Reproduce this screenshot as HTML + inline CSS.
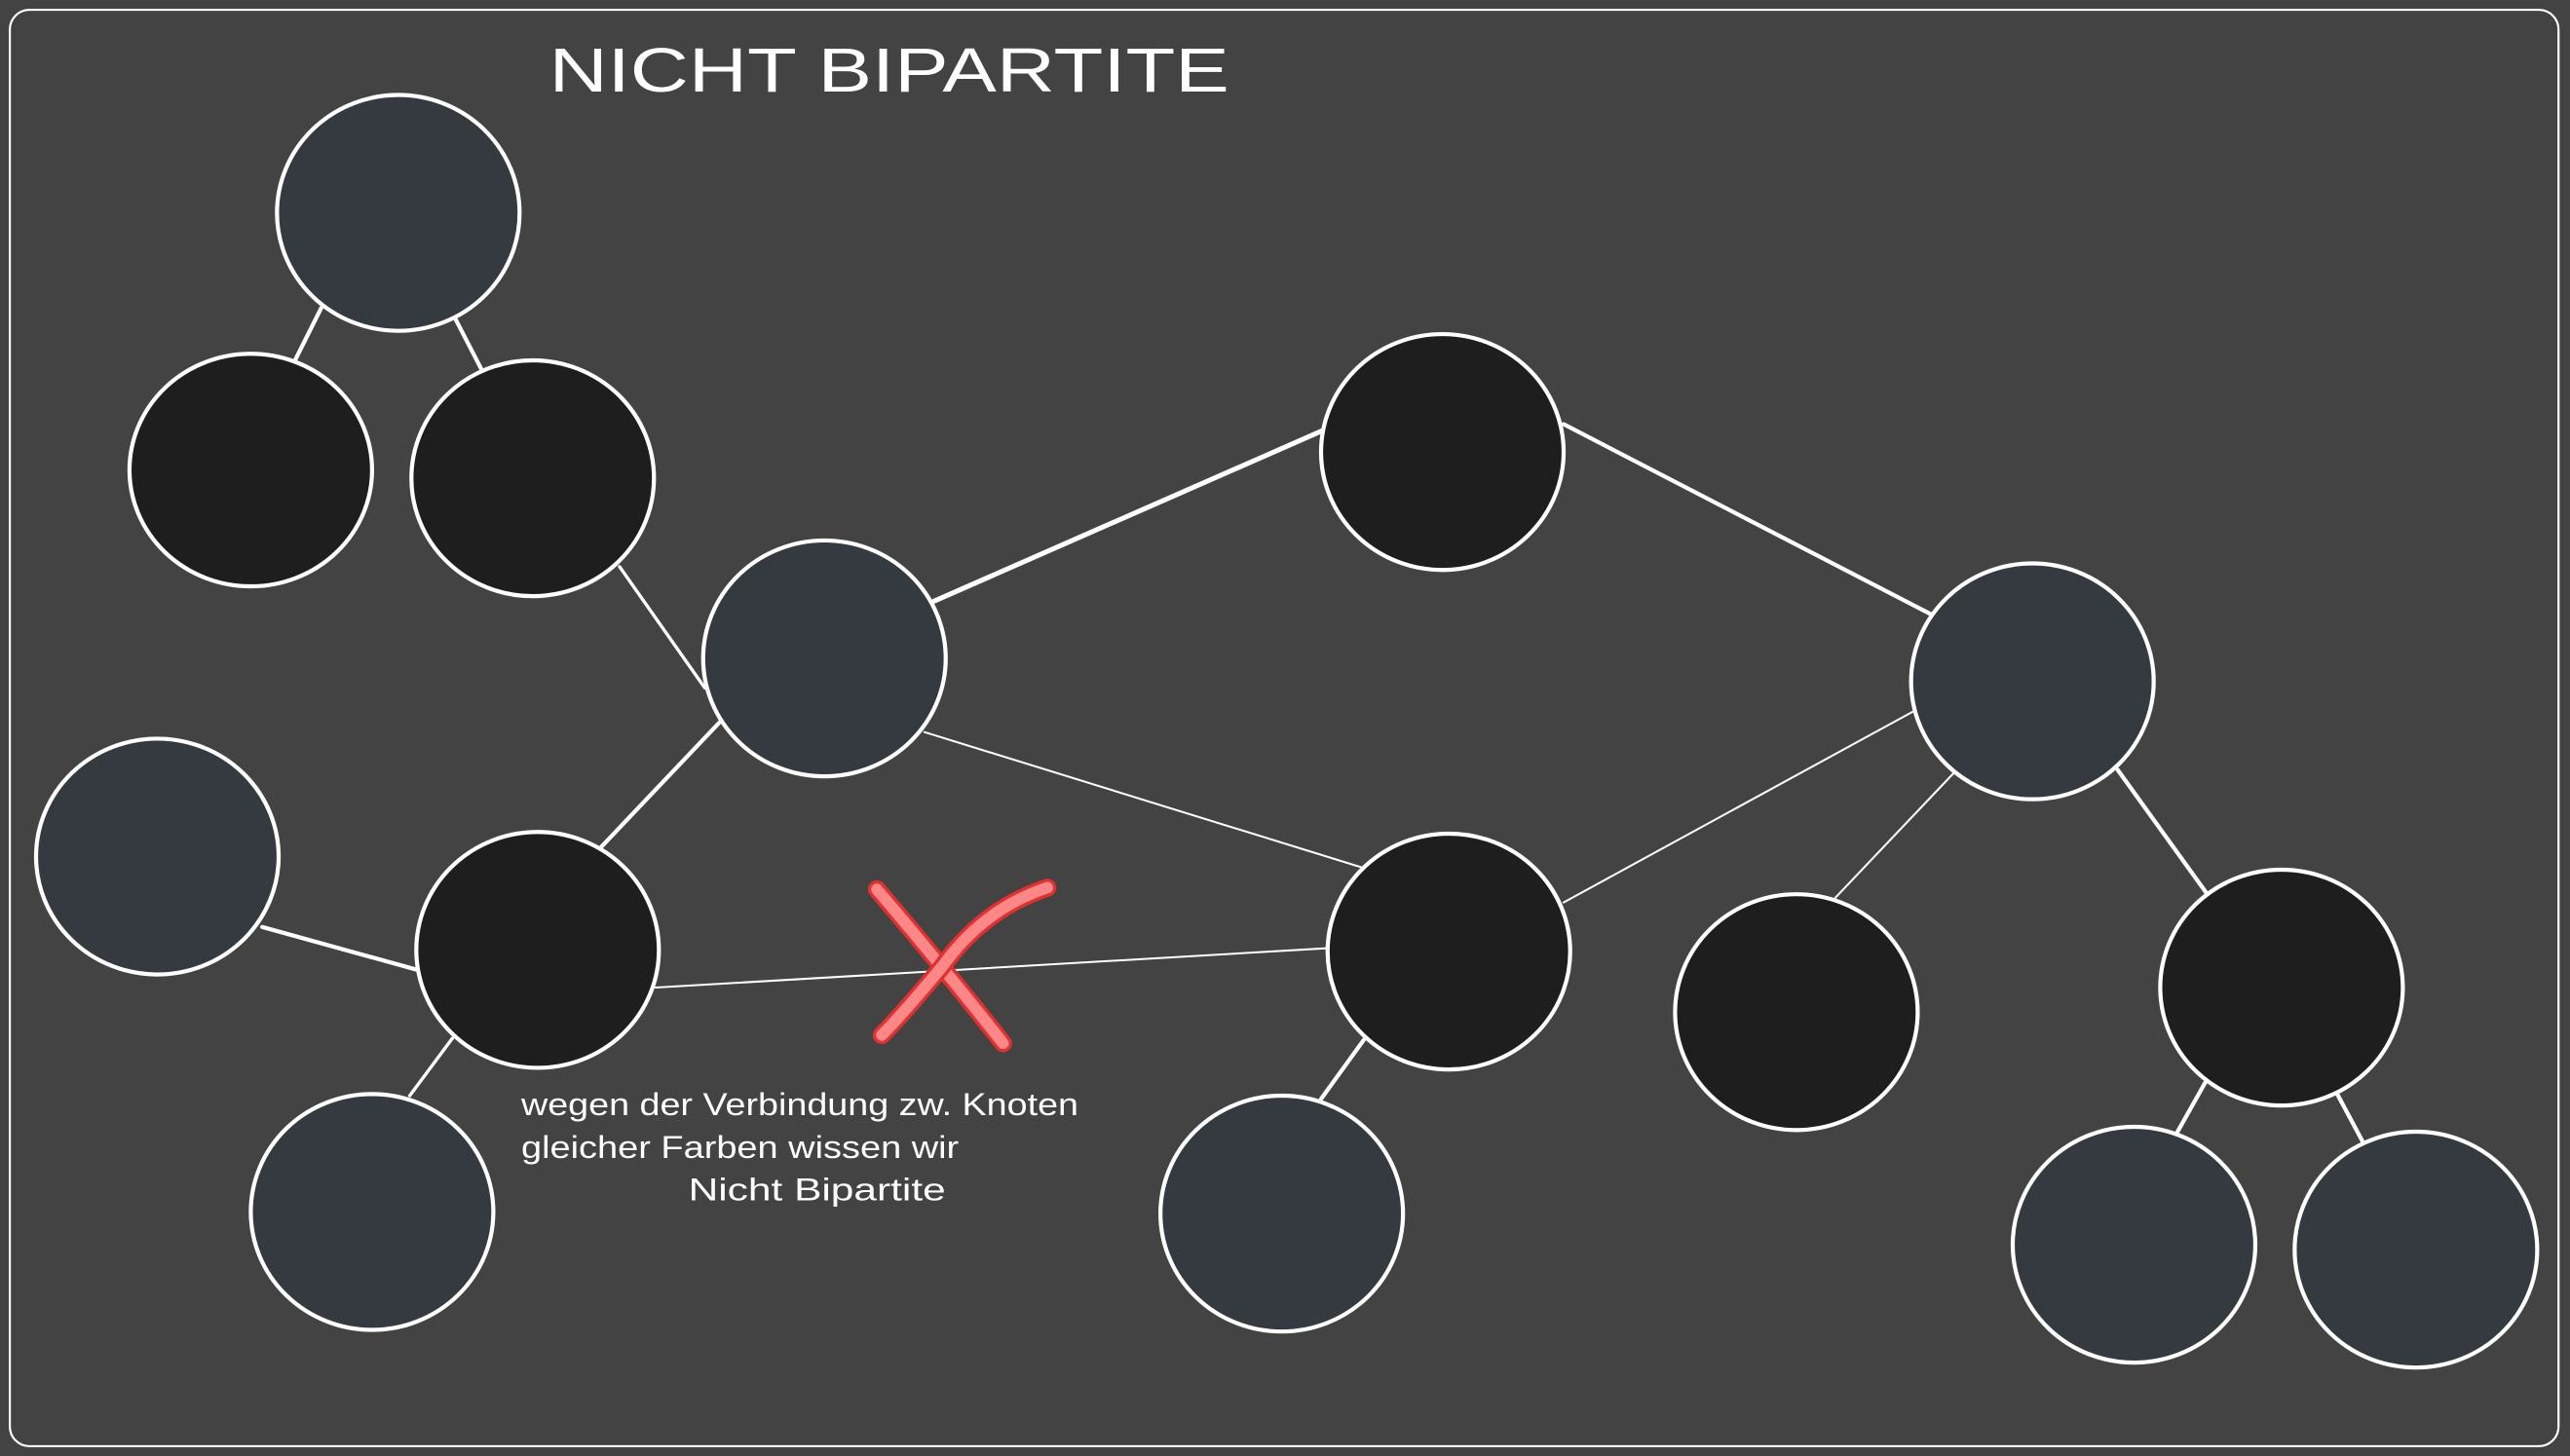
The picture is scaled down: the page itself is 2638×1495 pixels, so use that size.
<!DOCTYPE html>
<html><head><meta charset="utf-8">
<style>
html,body{margin:0;padding:0;background:#434343;}
svg{display:block;}
</style></head>
<body>
<svg width="2638" height="1495" viewBox="0 0 1568 889" preserveAspectRatio="none" xmlns="http://www.w3.org/2000/svg">
<rect x="0" y="0" width="1568" height="889" fill="#434343"/>
<rect x="6" y="6" width="1555" height="877" rx="12" fill="none" stroke="#ffffff" stroke-width="1.3"/>
<g stroke="#ffffff" fill="none" stroke-linecap="round">
<line x1="196" y1="188" x2="179" y2="222" stroke-width="2.5"/>
<line x1="278" y1="195" x2="294" y2="226" stroke-width="2.5"/>
<line x1="378" y1="346" x2="430" y2="420" stroke-width="2"/>
<line x1="570" y1="367" x2="809" y2="262" stroke-width="3"/>
<line x1="954" y1="259" x2="1178" y2="375" stroke-width="2.5"/>
<line x1="440" y1="440" x2="366" y2="518" stroke-width="2.5"/>
<line x1="564" y1="447" x2="832" y2="530" stroke-width="1.2"/>
<line x1="1168" y1="434" x2="954" y2="551" stroke-width="1.2"/>
<line x1="1192" y1="472" x2="1118" y2="550" stroke-width="1.2"/>
<line x1="1292" y1="470" x2="1346" y2="545" stroke-width="2.5"/>
<line x1="160" y1="566" x2="254" y2="592" stroke-width="2.5"/>
<line x1="276" y1="634" x2="250" y2="669" stroke-width="2"/>
<line x1="400" y1="603" x2="809" y2="579" stroke-width="1.2"/>
<line x1="832" y1="635" x2="806" y2="671" stroke-width="2.5"/>
<line x1="1346" y1="660" x2="1328" y2="692" stroke-width="2.5"/>
<line x1="1426" y1="668" x2="1442" y2="698" stroke-width="2.5"/>
</g>
<g stroke="#ffffff" stroke-width="2.5">
<ellipse cx="243" cy="130" rx="74" ry="72" fill="#343a40"/>
<ellipse cx="153" cy="287" rx="74" ry="71" fill="#1e1e1e"/>
<ellipse cx="325" cy="292" rx="74" ry="72" fill="#1e1e1e"/>
<ellipse cx="503" cy="402" rx="74" ry="72" fill="#343a40"/>
<ellipse cx="880" cy="276" rx="74" ry="72" fill="#1e1e1e"/>
<ellipse cx="1240" cy="416" rx="74" ry="72" fill="#343a40"/>
<ellipse cx="96" cy="523" rx="74" ry="72" fill="#343a40"/>
<ellipse cx="328" cy="580" rx="74" ry="72" fill="#1e1e1e"/>
<ellipse cx="884" cy="581" rx="74" ry="72" fill="#1e1e1e"/>
<ellipse cx="1096" cy="618" rx="74" ry="72" fill="#1e1e1e"/>
<ellipse cx="1392" cy="603" rx="74" ry="72" fill="#1e1e1e"/>
<ellipse cx="227" cy="740" rx="74" ry="72" fill="#343a40"/>
<ellipse cx="782" cy="741" rx="74" ry="72" fill="#343a40"/>
<ellipse cx="1302" cy="760" rx="74" ry="72" fill="#343a40"/>
<ellipse cx="1474" cy="763" rx="74" ry="72" fill="#343a40"/>
</g>
<g stroke-linecap="round" fill="none">
<path d="M535 543 Q575 590 612 637" stroke="#e03131" stroke-width="11"/>
<path d="M535 543 Q575 590 612 637" stroke="#ff8787" stroke-width="7"/>
<path d="M639 542 Q600 555 575 590 Q550 620 538 632" stroke="#e03131" stroke-width="11"/>
<path d="M639 542 Q600 555 575 590 Q550 620 538 632" stroke="#ff8787" stroke-width="7"/>
</g>
<text x="335" y="56" fill="#ffffff" font-family="Liberation Sans, sans-serif" font-size="38" textLength="415" lengthAdjust="spacingAndGlyphs">NICHT BIPARTITE</text>
<g fill="#ffffff" font-family="Liberation Sans, sans-serif" font-size="19">
<text x="318" y="681" textLength="340" lengthAdjust="spacingAndGlyphs">wegen der Verbindung zw. Knoten</text>
<text x="318" y="707" textLength="267" lengthAdjust="spacingAndGlyphs">gleicher Farben wissen wir</text>
<text x="420" y="733" textLength="157" lengthAdjust="spacingAndGlyphs">Nicht Bipartite</text>
</g>
</svg>
</body></html>
